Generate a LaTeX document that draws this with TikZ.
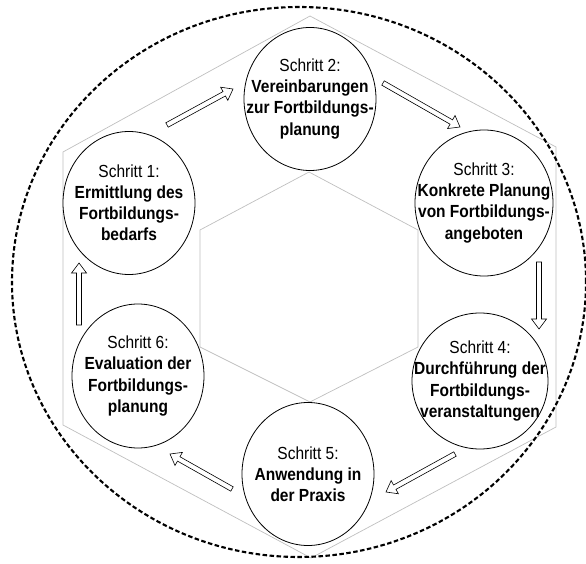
\documentclass[tikz,border=0pt]{standalone}
\usepackage{fontspec}
\setmainfont{Liberation Sans}
\usetikzlibrary{calc}
\newcommand{\stufenfont}{\fontsize{15.5}{18.6}\selectfont}
\tikzset{
  stufe/.style={align=center, font=\stufenfont, inner sep=0pt, yscale=1.13},
  kreis/.style={draw=black, fill=white, line width=0.8pt},
  hexa/.style={draw=black!25, line width=0.7pt},
  rahmen/.style={draw=black, line width=2.1pt, dash pattern=on 4.5pt off 2.5pt},
  flow/.style={draw=black, fill=white, line width=0.6pt,
    to path={let \p1=(\tikztostart), \p2=(\tikztotarget) in
      ($(\p1)!2.5pt!90:(\p2)$) -- ($(\p2)!10pt!(\p1)!2.5pt!-90:(\p1)$)
      -- ($(\p2)!10pt!(\p1)!7.5pt!-90:(\p1)$) -- (\p2)
      -- ($(\p2)!10pt!(\p1)!7.5pt!90:(\p1)$) -- ($(\p2)!10pt!(\p1)!2.5pt!90:(\p1)$)
      -- ($(\p1)!2.5pt!-90:(\p2)$) -- cycle}}
}
\begin{document}
\begin{tikzpicture}[x=1pt,y=1pt]
\useasboundingbox (0,0) rectangle (586,563);
\draw[hexa] (310,547) -- (556,416) -- (556,136) -- (311,5) -- (63,138) -- (63,411) -- cycle;
\draw[hexa] (309,391) -- (418,333) -- (418,216) -- (310,161) -- (200,216) -- (200,333) -- cycle;
\draw[rahmen] (299,281) ellipse [x radius=287pt, y radius=275pt];
\draw[kreis] (129,360) ellipse [x radius=66pt, y radius=71.5pt] node[stufe] (s1) {Schritt 1:\\\textbf{Ermittlung des}\\\textbf{Fortbildungs-}\\\textbf{bedarfs}};
\draw[kreis] (310,464) ellipse [x radius=66pt, y radius=71.5pt] node[stufe] (s2) {Schritt 2:\\\textbf{Vereinbarungen}\\\textbf{zur Fortbildungs-}\\\textbf{planung}};
\draw[kreis] (484,360) ellipse [x radius=69pt, y radius=73pt] node[stufe] (s3) {Schritt 3:\\\textbf{Konkrete Planung}\\\textbf{von Fortbildungs-}\\\textbf{angeboten}};
\draw[kreis] (480,182) ellipse [x radius=68pt, y radius=68pt] node[stufe] (s4) {Schritt 4:\\\textbf{Durchführung der}\\\textbf{Fortbildungs-}\\\textbf{veranstaltungen}};
\draw[kreis] (308,89) ellipse [x radius=66pt, y radius=71.5pt] node[stufe] (s5) {Schritt 5:\\\textbf{Anwendung in}\\\textbf{der Praxis}};
\draw[kreis] (138,187) ellipse [x radius=66pt, y radius=72pt] node[stufe] (s6) {Schritt 6:\\\textbf{Evaluation der}\\\textbf{Fortbildungs-}\\\textbf{planung}};
\coordinate (a1) at ([shift={(38,78)}]s1.center);
\coordinate (b1) at ([shift={(-77,10)}]s2.center);
\coordinate (a2) at ([shift={(73,16)}]s2.center);
\coordinate (b2) at ([shift={(-24,76)}]s3.center);
\coordinate (a3) at ([shift={(55,-59)}]s3.center);
\coordinate (b3) at ([shift={(59,52)}]s4.center);
\coordinate (a4) at ([shift={(-25,-73)}]s4.center);
\coordinate (b4) at ([shift={(78,-18)}]s5.center);
\coordinate (a5) at ([shift={(-76,-15)}]s5.center);
\coordinate (b5) at ([shift={(32,-78)}]s6.center);
\coordinate (a6) at ([shift={(-59,51)}]s6.center);
\coordinate (b6) at ([shift={(-50,-60)}]s1.center);
\draw[flow] (a1) to (b1);
\draw[flow] (a2) to (b2);
\draw[flow] (a3) to (b3);
\draw[flow] (a4) to (b4);
\draw[flow] (a5) to (b5);
\draw[flow] (a6) to (b6);
\end{tikzpicture}
\end{document}
